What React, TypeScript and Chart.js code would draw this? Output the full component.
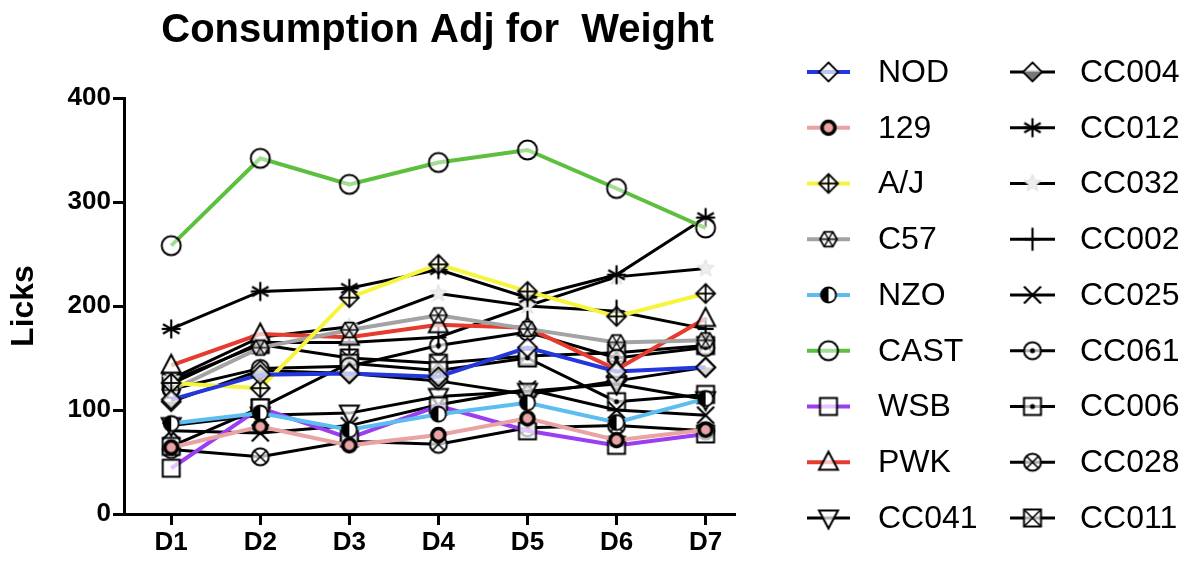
import React, { useEffect, useRef } from "react";
import { Chart, registerables } from "chart.js";
Chart.register(...registerables);

// ---------- data ----------
const DAYS = ["D1", "D2", "D3", "D4", "D5", "D6", "D7"];
const DAY_X = [1, 2, 3, 4, 5, 6, 7];
const Y_TICKS = [0, 100, 200, 300, 400];
const TITLE = "Consumption Adj for  Weight";
const Y_TITLE = "Licks";

const STRAINS = [
  "NOD", "129", "A/J", "C57", "NZO", "CAST", "WSB", "PWK", "CC041",
  "CC004", "CC012", "CC032", "CC002", "CC025", "CC061", "CC006", "CC028", "CC011",
];

const NOD = [110, 134, 135, 132, 160, 137, 141];
const S129 = [64, 84, 66, 76, 92, 71, 81];
const AJ = [126, 121, 208, 240, 214, 190, 212];
const C57 = [119, 160, 177, 191, 178, 165, 167];
const NZO = [87, 97, 81, 96, 107, 88, 111];
const CAST = [258, 342, 317, 338, 350, 313, 275];
const WSB = [44, 102, 73, 104, 80, 66, 77];
const PWK = [143, 173, 170, 182, 179, 139, 188];
const CC041 = [85, 95, 97, 113, 118, 125, 110];
const CC004 = [108, 138, 135, 128, 115, 128, 141];
const CC012 = [178, 214, 217, 235, 208, 230, 285];
const CC032 = [130, 170, 180, 212, 200, 228, 236];
const CC002 = [125, 165, 165, 170, 200, 195, 178];
const CC025 = [80, 78, 85, 105, 120, 100, 95];
const CC061 = [120, 140, 142, 162, 175, 150, 160];
const CC006 = [65, 102, 145, 138, 150, 108, 115];
const CC028 = [62, 55, 70, 67, 83, 85, 80];
const CC011 = [128, 163, 150, 145, 152, 155, 162];

const SERIES = [NOD, S129, AJ, C57, NZO, CAST, WSB, PWK, CC041, CC004, CC012, CC032, CC002, CC025, CC061, CC006, CC028, CC011];

// ---------- styles ----------
const COLORS = [
  "#2437dc", "#eaa3a3", "#f6f43c", "#a3a3a3", "#5bbdf0", "#5cbf3d", "#9a3ef0", "#e63b2e", "#000000",
  "#000000", "#000000", "#000000", "#000000", "#000000", "#000000", "#000000", "#000000", "#000000",
];
const MARKERS = [
  "diamond", "ring", "diamondPlus", "hexStar", "halfCircle", "circle", "square", "triUp", "triDown",
  "diamondHalf", "asterisk", "starFaint", "plus", "x", "circleDot", "squareDot", "circleX", "squareX",
];

const FONT = "'Liberation Sans', Arial, Helvetica, sans-serif";

function drawMarker(ctx: CanvasRenderingContext2D, kind: string, c: number, fillExtra: string) {
  const fillW = "rgba(255,255,255,0.7)";
  ctx.strokeStyle = "#000";
  ctx.lineWidth = 1.8;
  ctx.lineJoin = "miter";
  const diamond = (r: number) => {
    ctx.beginPath();
    ctx.moveTo(c, c - r);
    ctx.lineTo(c + r, c);
    ctx.lineTo(c, c + r);
    ctx.lineTo(c - r, c);
    ctx.closePath();
  };
  const circ = (r: number) => {
    ctx.beginPath();
    ctx.arc(c, c, r, 0, Math.PI * 2);
  };
  const sq = (h: number) => {
    ctx.beginPath();
    ctx.rect(c - h, c - h, 2 * h, 2 * h);
  };
  const line = (x1: number, y1: number, x2: number, y2: number) => {
    ctx.beginPath();
    ctx.moveTo(x1, y1);
    ctx.lineTo(x2, y2);
    ctx.stroke();
  };
  switch (kind) {
    case "diamond":
      diamond(9.5); ctx.fillStyle = fillW; ctx.fill(); ctx.stroke();
      break;
    case "ring":
      circ(6.5); ctx.fillStyle = fillExtra; ctx.fill(); ctx.lineWidth = 3.6; ctx.stroke();
      break;
    case "diamondPlus":
      diamond(9.5); ctx.fillStyle = fillW; ctx.fill(); ctx.stroke();
      line(c - 9.5, c, c + 9.5, c); line(c, c - 9.5, c, c + 9.5);
      break;
    case "hexStar": {
      ctx.beginPath();
      for (let i = 0; i < 6; i++) {
        const a = (Math.PI / 3) * i;
        const x = c + 8.5 * Math.cos(a), y = c + 8.5 * Math.sin(a);
        if (i === 0) ctx.moveTo(x, y); else ctx.lineTo(x, y);
      }
      ctx.closePath(); ctx.fillStyle = fillW; ctx.fill(); ctx.stroke();
      ctx.lineWidth = 1.3;
      for (let i = 0; i < 3; i++) {
        const a = (Math.PI / 3) * i;
        line(c + 8.5 * Math.cos(a), c + 8.5 * Math.sin(a), c - 8.5 * Math.cos(a), c - 8.5 * Math.sin(a));
      }
      break;
    }
    case "halfCircle":
      circ(7.5); ctx.fillStyle = "#fff"; ctx.fill();
      ctx.beginPath(); ctx.arc(c, c, 7.5, Math.PI / 2, Math.PI * 1.5); ctx.closePath();
      ctx.fillStyle = "#000"; ctx.fill();
      circ(7.5); ctx.stroke();
      break;
    case "circle":
      circ(9.5); ctx.fillStyle = "rgba(255,255,255,0.45)"; ctx.fill(); ctx.lineWidth = 2; ctx.stroke();
      break;
    case "square":
      sq(8.5); ctx.fillStyle = fillW; ctx.fill(); ctx.lineWidth = 2; ctx.stroke();
      break;
    case "triUp":
      ctx.beginPath(); ctx.moveTo(c, c - 10.5); ctx.lineTo(c + 9.5, c + 7.5); ctx.lineTo(c - 9.5, c + 7.5); ctx.closePath();
      ctx.fillStyle = fillW; ctx.fill(); ctx.lineWidth = 2; ctx.stroke();
      break;
    case "triDown":
      ctx.beginPath(); ctx.moveTo(c, c + 10.5); ctx.lineTo(c + 9.5, c - 7.5); ctx.lineTo(c - 9.5, c - 7.5); ctx.closePath();
      ctx.fillStyle = fillW; ctx.fill(); ctx.lineWidth = 2; ctx.stroke();
      break;
    case "diamondHalf":
      diamond(9.5); ctx.fillStyle = fillW; ctx.fill();
      ctx.beginPath(); ctx.moveTo(c - 9.5, c); ctx.lineTo(c + 9.5, c); ctx.lineTo(c, c + 9.5); ctx.closePath();
      ctx.fillStyle = "#777"; ctx.fill();
      diamond(9.5); ctx.stroke();
      break;
    case "asterisk":
      ctx.lineWidth = 2.2;
      for (let i = 0; i < 3; i++) {
        const a = Math.PI / 2 + (Math.PI / 3) * i;
        line(c + 9.5 * Math.cos(a), c + 9.5 * Math.sin(a), c - 9.5 * Math.cos(a), c - 9.5 * Math.sin(a));
      }
      line(c - 9.5, c, c + 9.5, c);
      break;
    case "starFaint": {
      ctx.beginPath();
      for (let i = 0; i < 10; i++) {
        const a = -Math.PI / 2 + (Math.PI / 5) * i;
        const r = i % 2 === 0 ? 9 : 4;
        const x = c + r * Math.cos(a), y = c + r * Math.sin(a);
        if (i === 0) ctx.moveTo(x, y); else ctx.lineTo(x, y);
      }
      ctx.closePath(); ctx.fillStyle = "#eeeeee"; ctx.fill(); ctx.strokeStyle = "#dddddd"; ctx.lineWidth = 1; ctx.stroke();
      break;
    }
    case "plus":
      ctx.lineWidth = 2.2;
      line(c, c - 11.5, c, c + 11.5); line(c - 8, c, c + 8, c);
      break;
    case "x":
      ctx.lineWidth = 2.2;
      line(c - 8.5, c - 8.5, c + 8.5, c + 8.5); line(c - 8.5, c + 8.5, c + 8.5, c - 8.5);
      break;
    case "circleDot":
      circ(8.5); ctx.fillStyle = fillW; ctx.fill(); ctx.lineWidth = 2; ctx.stroke();
      circ(2.5); ctx.fillStyle = "#000"; ctx.fill();
      break;
    case "squareDot":
      sq(8.5); ctx.fillStyle = fillW; ctx.fill(); ctx.lineWidth = 2; ctx.stroke();
      circ(2.5); ctx.fillStyle = "#000"; ctx.fill();
      break;
    case "circleX":
      circ(8.5); ctx.fillStyle = fillW; ctx.fill(); ctx.lineWidth = 2; ctx.stroke();
      ctx.lineWidth = 1.6;
      line(c - 6, c - 6, c + 6, c + 6); line(c - 6, c + 6, c + 6, c - 6);
      break;
    case "squareX":
      sq(8.5); ctx.fillStyle = fillW; ctx.fill(); ctx.lineWidth = 2; ctx.stroke();
      ctx.lineWidth = 1.6;
      line(c - 8.5, c - 8.5, c + 8.5, c + 8.5); line(c - 8.5, c + 8.5, c + 8.5, c - 8.5);
      break;
  }
}

function makeMarker(kind: string, color: string): HTMLCanvasElement {
  const S = 28;
  const cv = document.createElement("canvas");
  cv.width = S;
  cv.height = S;
  const ctx = cv.getContext("2d")!;
  drawMarker(ctx, kind, S / 2, color);
  return cv;
}

export default function App() {
  const ref = useRef<HTMLCanvasElement | null>(null);

  useEffect(() => {
    if (!ref.current) return;
    const images = STRAINS.map((_, i) => makeMarker(MARKERS[i], COLORS[i]));
    const datasets = STRAINS.map((name, i) => ({
      label: name,
      data: SERIES[i].map((v, j) => ({ x: DAY_X[j], y: v })),
      borderColor: COLORS[i],
      backgroundColor: COLORS[i],
      borderWidth: i < 8 ? 4 : 3,
      pointStyle: images[i] as any,
      pointRadius: 9,
      tension: 0,
      fill: false,
    }));

    const overlay = {
      id: "overlay",
      afterDraw(chart: any) {
        const ctx = chart.ctx as CanvasRenderingContext2D;
        const area = chart.chartArea;
        ctx.save();
        // title
        ctx.fillStyle = "#000";
        ctx.font = `bold 40px ${FONT}`;
        ctx.textAlign = "center";
        ctx.textBaseline = "alphabetic";
        ctx.fillText(TITLE, (area.left + area.right) / 2 + 8, 34);
        // legend
        const rowH = 55.75;
        const cols = [
          { x0: 799, x1: 842, tx: 870 },
          { x0: 1002, x1: 1047, tx: 1072 },
        ];
        chart.data.datasets.forEach((ds: any, i: number) => {
          const col = cols[i < 9 ? 0 : 1];
          const y = 64 + rowH * (i % 9);
          ctx.strokeStyle = ds.borderColor;
          ctx.lineWidth = ds.borderWidth;
          ctx.beginPath();
          ctx.moveTo(col.x0, y);
          ctx.lineTo(col.x1, y);
          ctx.stroke();
          const img = images[i];
          ctx.drawImage(img, (col.x0 + col.x1) / 2 - img.width / 2, y - img.height / 2);
          ctx.fillStyle = "#000";
          ctx.font = `32px ${FONT}`;
          ctx.textAlign = "left";
          ctx.textBaseline = "middle";
          ctx.fillText(ds.label, col.tx, y + 1);
        });
        ctx.restore();
      },
    };

    const chart = new Chart(ref.current, {
      type: "line",
      data: { datasets: datasets as any },
      options: {
        animation: false,
        responsive: true,
        maintainAspectRatio: false,
        layout: { padding: { top: 90, right: 456, left: 0, bottom: 0 } },
        plugins: { legend: { display: false }, title: { display: false }, tooltip: { enabled: false } },
        scales: {
          x: {
            type: "linear",
            min: 0.47,
            max: 7.33,
            afterBuildTicks: (scale: any) => {
              scale.ticks = DAY_X.map((v) => ({ value: v }));
            },
            afterFit: (scale: any) => {
              scale.height = 43;
            },
            ticks: {
              callback: (v: any) => DAYS[DAY_X.indexOf(Number(v))] ?? "",
              color: "#000",
              font: { family: FONT, size: 26, weight: "bold" },
              padding: 2,
              maxRotation: 0,
              autoSkip: false,
            },
            grid: { drawOnChartArea: false, drawTicks: true, tickLength: 11, tickWidth: 3, tickColor: "#000" },
            border: { display: true, color: "#000", width: 3 },
          },
          y: {
            type: "linear",
            min: 0,
            max: 400,
            afterBuildTicks: (scale: any) => {
              scale.ticks = Y_TICKS.map((v) => ({ value: v }));
            },
            afterFit: (scale: any) => {
              scale.width = 116;
            },
            ticks: {
              color: "#000",
              font: { family: FONT, size: 26, weight: "bold" },
              padding: 2,
            },
            title: {
              display: true,
              text: Y_TITLE,
              color: "#000",
              font: { family: FONT, size: 32, weight: "bold", lineHeight: 1 },
              padding: { top: 0, bottom: 0 },
            },
            grid: { drawOnChartArea: false, drawTicks: true, tickLength: 11, tickWidth: 3, tickColor: "#000" },
            border: { display: true, color: "#000", width: 3 },
          },
        },
      },
      plugins: [overlay],
    });
    return () => chart.destroy();
  }, []);

  return (
    <div style={{ width: 1183, height: 549, position: "relative" }}>
      <canvas ref={ref} />
    </div>
  );
}
